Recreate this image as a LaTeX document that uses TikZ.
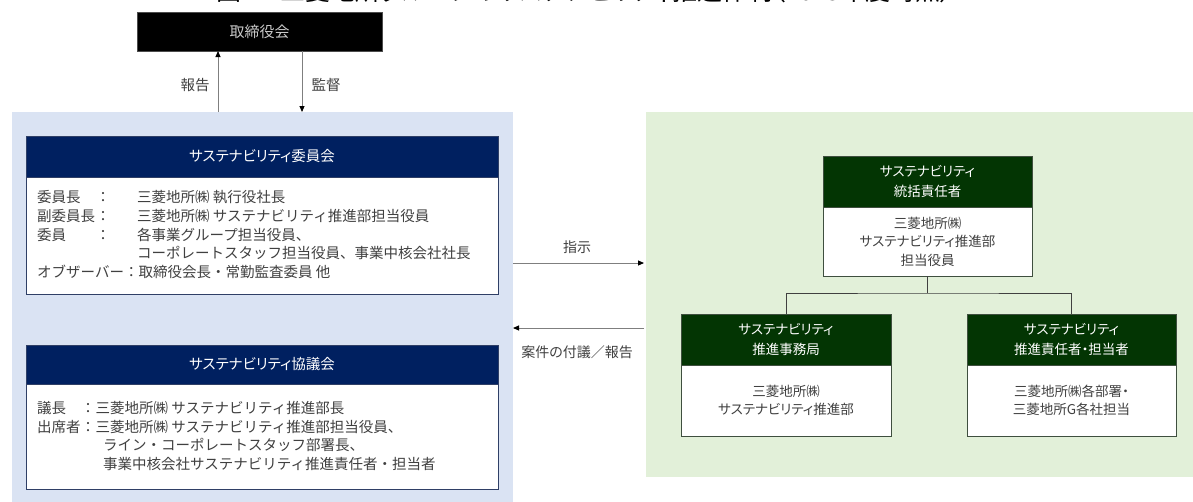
\documentclass[tikz,border=0pt]{standalone}
\usepackage{fontspec}
\setmainfont{Noto Sans CJK JP}[RawFeature={+palt}]
\newfontfamily\jpwide{Noto Sans CJK JP}
\usetikzlibrary{arrows.meta,calc}
\definecolor{navyh}{HTML}{002060}
\definecolor{greenh}{HTML}{033503}
\definecolor{bluepan}{HTML}{DAE3F3}
\definecolor{greenpan}{HTML}{E2F0D9}
\definecolor{txt}{HTML}{404040}
\definecolor{linec}{HTML}{7F7F7F}
\definecolor{boardtxt}{HTML}{C8C8C8}
\definecolor{navyborder}{HTML}{2F3F66}
\definecolor{greenborder}{HTML}{3F4F3F}
\tikzset{
  panel/.style={inner sep=0pt, outer sep=0pt, anchor=north west},
  navyhead/.style={panel, fill=navyh, draw=navyborder, line width=1pt, text=white,
     font=\fontsize{14.5}{16}\selectfont},
  greenhead/.style={panel, fill=greenh, draw=greenborder, line width=1pt, text=white,
     align=center, font=\fontsize{13.5}{20}\selectfont},
  bodybox/.style={panel, fill=white, line width=1pt},
  gbody/.style={panel, fill=white, draw=greenborder, line width=1pt, text=txt,
     align=center, font=\fontsize{13.5}{18.5}\selectfont},
  ln/.style={anchor=base west, inner sep=0pt, text=txt, font=\jpwide\fontsize{14.5}{16}\selectfont},
  col/.style={anchor=base, inner sep=0pt, text=txt, font=\jpwide\fontsize{14.5}{16}\selectfont},
  lbl/.style={inner sep=0pt, text=txt, font=\fontsize{14}{16}\selectfont},
  arr/.style={draw=linec, line width=0.9pt, -{Triangle[length=6pt,width=5pt,color=black]}},
  conn/.style={draw=txt, line width=1pt}
}
\begin{document}
\begin{tikzpicture}[x=1pt,y=-1pt]
\clip (0,0) rectangle (1193,501);
\fill[white] (0,0) rectangle (1193,501);
% title (cut off at top)
\node[anchor=base, inner sep=0pt, text=black, font=\fontsize{25}{25}\selectfont] (title) at (585,0)
  {図1　三菱地所グループのサステナビリティ推進体制（2023年度時点）};
% panels
\node[panel, fill=bluepan, minimum width=501pt, minimum height=395pt] (bluep) at (12,112) {};
\node[panel, fill=greenpan, minimum width=547pt, minimum height=365pt] (greenp) at (646,112) {};
% board
\node[panel, fill=black, draw=black!70, minimum width=245pt, minimum height=39pt,
  text=boardtxt, font=\fontsize{15}{16}\selectfont] (board) at (137,12) {取締役会};
\coordinate (xup) at (218,0);
\coordinate (xdn) at (302,0);
\draw[arr] (bluep.north -| xup) -- (board.south -| xup);
\draw[arr] (board.south -| xdn) -- (bluep.north -| xdn);
\node[lbl, font=\fontsize{14.5}{16}\selectfont] (lrep) at (195,85) {報告};
\node[lbl, font=\fontsize{14.5}{16}\selectfont] (lsup) at (326,85) {監督};
% committee
\node[navyhead, minimum width=472pt, minimum height=41pt] (comH) at (26,136) {サステナビリティ委員会};
\node[bodybox, draw=navyborder, minimum width=472pt, minimum height=117pt] (comB) at (26,177) {};
\node[ln] (c1a) at (37,202) {委員長};
\node[ln] (c2a) at (37,221) {副委員長};
\node[ln] (c3a) at (37,240) {委員};
\node[col] (c1b) at (103,202) {：};
\node[col] (c2b) at (103,221) {：};
\node[col] (c3b) at (103,240) {：};
\node[ln] (c1c) at (137,202) {三菱地所㈱ 執行役社長};
\node[ln] (c2c) at (137,221) {三菱地所㈱ サステナビリティ推進部担当役員};
\node[ln] (c3c) at (137,240) {各事業グループ担当役員、};
\node[ln] (c4c) at (137,258) {コーポレートスタッフ担当役員、事業中核会社社長};
\node[ln] (c5a) at (37,277) {オブザーバー：取締役会長・常勤監査委員 他};
% council
\node[navyhead, minimum width=472pt, minimum height=39pt] (couH) at (26,345) {サステナビリティ協議会};
\node[bodybox, draw=navyborder, minimum width=472pt, minimum height=105pt] (couB) at (26,384) {};
\node[ln] (k1a) at (37,413) {議長};
\node[ln] (k2a) at (37,432) {出席者};
\node[col] (k1b) at (88,413) {：};
\node[col] (k2b) at (88,432) {：};
\node[ln] (k1c) at (95.5,413) {三菱地所㈱ サステナビリティ推進部長};
\node[ln] (k2c) at (95.5,432) {三菱地所㈱ サステナビリティ推進部担当役員、};
\node[ln] (k3c) at (103,450) {ライン・コーポレートスタッフ部署長、};
\node[ln] (k4c) at (103,469) {事業中核会社サステナビリティ推進責任者・担当者};
% green org
\node[greenhead, minimum width=209pt, minimum height=51pt] (topH) at (823,156) {サステナビリティ\\統括責任者};
\node[gbody, minimum width=209pt, minimum height=69pt] (topB) at (823,207) {三菱地所㈱\\サステナビリティ推進部\\担当役員};
\node[greenhead, minimum width=210pt, minimum height=51pt] (secH) at (681,314) {サステナビリティ\\推進事務局};
\node[gbody, minimum width=210pt, minimum height=71pt] (secB) at (681,365) {三菱地所㈱\\サステナビリティ推進部};
\node[greenhead, minimum width=209pt, minimum height=51pt] (repH) at (967,314) {サステナビリティ\\推進責任者・担当者};
\node[gbody, minimum width=209pt, minimum height=71pt] (repB) at (967,365) {三菱地所㈱各部署・\\三菱地所G各社担当};
\coordinate (junc) at (927.5,293);
\draw[conn] (topB.south) -- (junc);
\draw[conn] (secH.north) |- (junc) -| (repH.north);
% horizontal arrows
\coordinate (ya) at (0,263);
\coordinate (yb) at (0,328);
\draw[arr, shorten >=2pt] (bluep.east |- ya) -- (greenp.west |- ya);
\draw[arr, shorten <=2pt] (greenp.west |- yb) -- (bluep.east |- yb);
\node[lbl] (lins) at (577,247) {指示};
\node[lbl] (lret) at (577,352) {案件の付議／報告};
\end{tikzpicture}
\end{document}
